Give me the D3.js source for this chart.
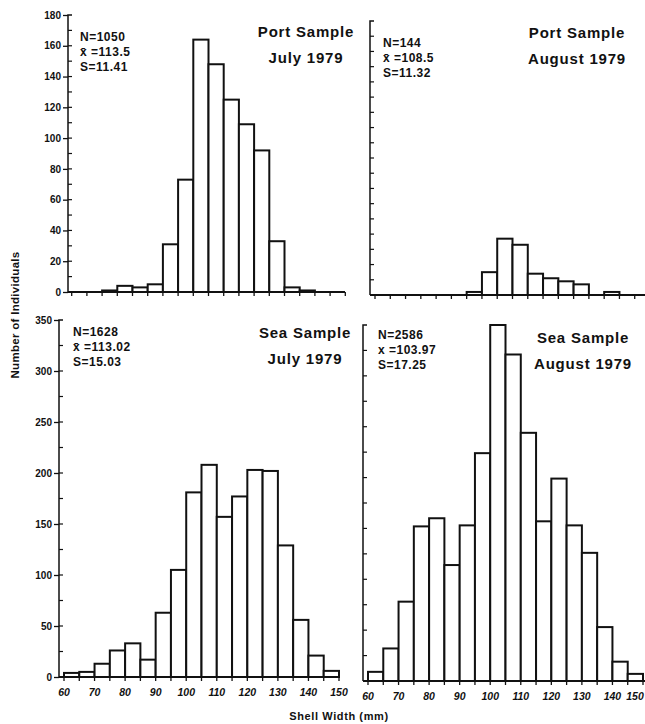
<!DOCTYPE html>
<html>
<head>
<meta charset="utf-8">
<script src="https://cdn.jsdelivr.net/npm/d3@7"></script>
<style>
  body { margin: 0; background: #fff; }
  svg { display: block; }
  text { font-family: "Liberation Sans", "DejaVu Sans", sans-serif; fill: #111; }
</style>
</head>
<body>
<div id="chart"></div>
<script>
'use strict';

// shell width classes (lower bound, mm), 5 mm wide
var binStarts = [60, 65, 70, 75, 80, 85, 90, 95, 100, 105, 110, 115, 120, 125, 130, 135, 140, 145];

// counts
var portJuly   = [0, 0, 1, 4, 3, 5, 31, 73, 164, 148, 125, 109, 92, 33, 3, 1, 0, 0];
var portAugust = [0, 0, 0, 0, 0, 0, 2, 15, 37, 33, 14, 11, 9, 7, 0, 2, 0, 0];
var seaJuly    = [4, 5, 13, 26, 33, 17, 63, 105, 181, 208, 157, 177, 203, 202, 129, 56, 21, 6];
var seaAugust  = [9, 32, 78, 152, 160, 114, 153, 224, 350, 321, 244, 157, 199, 153, 126, 53, 19, 7];

var portTicks  = [0, 20, 40, 60, 80, 100, 120, 140, 160, 180];
var seaTicks   = [0, 50, 100, 150, 200, 250, 300, 350];
var widthTicks = [60, 70, 80, 90, 100, 110, 120, 130, 140, 150];

var statsPortJuly   = ["N=1050", "x\u0304 =113.5", "S=11.41"];
var statsPortAugust = ["N=144", "x\u0304 =108.5", "S=11.32"];
var statsSeaJuly    = ["N=1628", "x\u0304 =113.02", "S=15.03"];
var statsSeaAugust  = ["N=2586", "x =103.97", "S=17.25"];

var titlesPortJuly   = ["Port Sample", "July 1979"];
var titlesPortAugust = ["Port Sample", "August 1979"];
var titlesSeaJuly    = ["Sea Sample", "July 1979"];
var titlesSeaAugust  = ["Sea Sample", "August 1979"];

var width = 645, height = 724;

var svg = d3.select("#chart").append("svg")
    .attr("width", width)
    .attr("height", height);

// panel layout (pixel positions only)
var panels = [
    {values: portJuly, max: 180, minor: 10, ticks: portTicks, labels: true,
     xl: 71.7, xr: 345.3, yz: 292, yt: 15, ax: 68, lineEnd: 345,
     stats: statsPortJuly, sx: 80, sy: 41, titles: titlesPortJuly, tx: 306, ty: 37},
    {values: portAugust, max: 180, minor: 10, ticks: [], labels: false,
     xl: 375, xr: 650, yz: 295, yt: 21, ax: 370, lineEnd: 645,
     stats: statsPortAugust, sx: 383, sy: 47, titles: titlesPortAugust, tx: 577, ty: 38},
    {values: seaJuly, max: 350, minor: 25, ticks: seaTicks, labels: true,
     xl: 64, xr: 339, yz: 677, yt: 320, ax: 59, lineEnd: 339,
     stats: statsSeaJuly, sx: 73, sy: 336, titles: titlesSeaJuly, tx: 305, ty: 338},
    {values: seaAugust, max: 350, minor: 25, ticks: [], labels: false,
     xl: 368, xr: 643, yz: 681, yt: 325, ax: 363, lineEnd: 645,
     stats: statsSeaAugust, sx: 378, sy: 339, titles: titlesSeaAugust, tx: 583, ty: 343}
];

panels.forEach(function(p, pi) {
    var x = d3.scaleLinear().domain([60, 150]).range([p.xl, p.xr]),
        y = d3.scaleLinear().domain([0, p.max]).range([p.yz, p.yt]),
        g = svg.append("g");

    //bars
    g.append("g")
        .selectAll("rect")
        .data(binStarts.map(function(b, i) { return {b: b, v: p.values[i]}; }))
        .enter().append("rect")
        .attr("x", function(d) { return x(d.b); })
        .attr("width", function(d) { return x(d.b + 5) - x(d.b); })
        .attr("y", function(d) { return y(d.v); })
        .attr("height", function(d) { return y(0) - y(d.v); })
        .style("fill", "#fff")
        .attr("stroke", "#111")
        .attr("stroke-width", 2);

    //baseline
    g.append("line")
        .attr("x1", p.ax).attr("x2", p.lineEnd)
        .attr("y1", y(0)).attr("y2", y(0))
        .attr("stroke", "#111").attr("stroke-width", 1.8);

    //x ticks every 5 mm
    g.append("g")
        .selectAll("line")
        .data(binStarts.concat([150]))
        .enter().append("line")
        .attr("x1", function(d) { return x(d); })
        .attr("x2", function(d) { return x(d); })
        .attr("y1", y(0))
        .attr("y2", y(0) + 4)
        .attr("stroke", "#111").attr("stroke-width", 1.3);

    //y axis line with top serif
    g.append("path")
        .attr("d", "M" + (p.ax + 4) + "," + y(p.max) + "H" + p.ax + "V" + y(0))
        .attr("fill", "none")
        .attr("stroke", "#111").attr("stroke-width", 1.5);

    //minor ticks (inside)
    g.append("g")
        .selectAll("line")
        .data(d3.range(p.minor, p.max, p.minor))
        .enter().append("line")
        .attr("x1", p.ax).attr("x2", p.ax + 4)
        .attr("y1", function(d) { return y(d); })
        .attr("y2", function(d) { return y(d); })
        .attr("stroke", "#111").attr("stroke-width", 1.2);

    if (p.labels) {
        var axis = d3.axisLeft(y).tickValues(p.ticks).tickSize(5).tickPadding(2);
        var ag = g.append("g")
            .attr("transform", "translate(" + p.ax + ",0)")
            .call(axis);
        ag.select(".domain").remove();
        ag.selectAll("line").attr("stroke", "#111").attr("stroke-width", 1.3);
        ag.selectAll("text")
            .style("font-size", "10px")
            .style("font-weight", "bold")
            .attr("fill", "#111");
    }

    //x tick labels for the bottom row
    if (pi >= 2) {
        g.append("g")
            .selectAll("text")
            .data(widthTicks)
            .enter().append("text")
            .attr("x", function(d) { return Math.min(x(d), width - 10); })
            .attr("y", y(0) + 19)
            .attr("text-anchor", "middle")
            .style("font-size", "10.5px")
            .style("font-weight", "bold")
            .style("font-style", "italic")
            .text(function(d) { return d; });
    }

    //stats
    g.append("g")
        .selectAll("text")
        .data(p.stats)
        .enter().append("text")
        .attr("x", p.sx)
        .attr("y", function(d, i) { return p.sy + i * 15; })
        .style("font-size", "12px")
        .style("font-weight", "bold")
        .style("letter-spacing", "0.5px")
        .text(function(d) { return d; });

    //titles
    g.append("g")
        .selectAll("text")
        .data(p.titles)
        .enter().append("text")
        .attr("x", p.tx)
        .attr("y", function(d, i) { return p.ty + i * 26; })
        .attr("text-anchor", "middle")
        .style("font-size", "15px")
        .style("font-weight", "bold")
        .style("letter-spacing", "0.8px")
        .text(function(d) { return d; });
});

svg.append("text")
    .attr("transform", "translate(19,315) rotate(-90)")
    .attr("text-anchor", "middle")
    .style("font-size", "11.5px")
    .style("font-weight", "bold")
    .style("letter-spacing", "0.3px")
    .text("Number of Individuals");

svg.append("text")
    .attr("x", 339)
    .attr("y", 720)
    .attr("text-anchor", "middle")
    .style("font-size", "11px")
    .style("font-weight", "bold")
    .style("letter-spacing", "0.6px")
    .text("Shell Width (mm)");
</script>
</body>
</html>
